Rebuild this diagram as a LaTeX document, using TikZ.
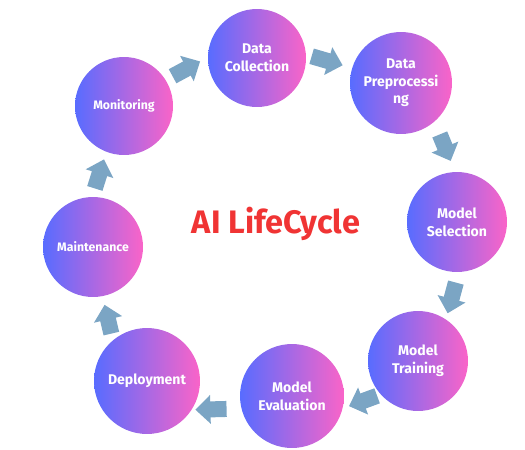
\documentclass[tikz,border=0pt]{standalone}
\usepackage{fontspec}
\setmainfont{Fira Sans}
\usetikzlibrary{arrows.meta}
\definecolor{stageblue}{RGB}{88,108,255}
\definecolor{stagepink}{RGB}{250,100,200}
\definecolor{flowblue}{RGB}{123,165,196}
\definecolor{titlered}{RGB}{240,52,52}
\tikzset{
  stage/.style={circle, minimum size=2cm, inner sep=0pt, outer sep=0pt, left color=stageblue, right color=stagepink, text=white, align=center, font=\bfseries\fontsize{8}{10}\selectfont},
  smalltext/.style={font=\bfseries\fontsize{7}{9}\selectfont},
  flow/.style={draw=flowblue, line width=0.32cm, -{Triangle[width=0.56cm,length=0.3cm]}}
}
\begin{document}
\begin{tikzpicture}[x=0.02cm,y=-0.02cm]
    \useasboundingbox (0,0) rectangle (525,450);
    \node[stage, minimum size=1.96cm] (dc) at (257,58) {Data\\Collection};
    \node[stage, minimum size=2.04cm] (dp) at (401,83) {Data\\Preprocessi\\ng};
    \node[stage] (ms) at (457,222) {Model\\Selection};
    \node[stage] (mt) at (418,361) {Model\\Training};
    \node[stage, minimum size=2.08cm] (me) at (292,396) {Model\\Evaluation};
    \node[stage, minimum size=2.12cm] (dep) at (147,381) {Deployment};
    \node[stage, smalltext] (mai) at (93,247) {Maintenance};
    \node[stage, smalltext, minimum size=1.96cm] (mon) at (124,106) {Monitoring};
    \node[text=titlered, anchor=base, font=\bfseries\fontsize{18.5}{22}\selectfont] (title) at (276,233) {AI LifeCycle};
    \draw[flow, shorten <=0.16cm, shorten >=0.18cm] (mon.32) -- (dc.179);
    \draw[flow, shorten <=0.12cm, shorten >=0.2cm] (dc.4) -- (dp.163);
    \draw[flow, shorten <=0.28cm, shorten >=0.24cm] (dp.311) -- (ms.92);
    \draw[flow, shorten <=0.22cm, shorten >=0.13cm] (ms.272) -- (mt.56);
    \draw[flow, shorten <=0.08cm, shorten >=0.14cm] (mt.222) -- (me.346);
    \draw[flow, shorten <=0.3cm, shorten >=0.08cm] (me.194) -- (dep.327);
    \draw[flow, shorten <=0.14cm, shorten >=0.18cm] (dep.130) -- (mai.281);
    \draw[flow, shorten <=0.18cm, shorten >=0.16cm] (mai.91) -- (mon.249);
\end{tikzpicture}
\end{document}
